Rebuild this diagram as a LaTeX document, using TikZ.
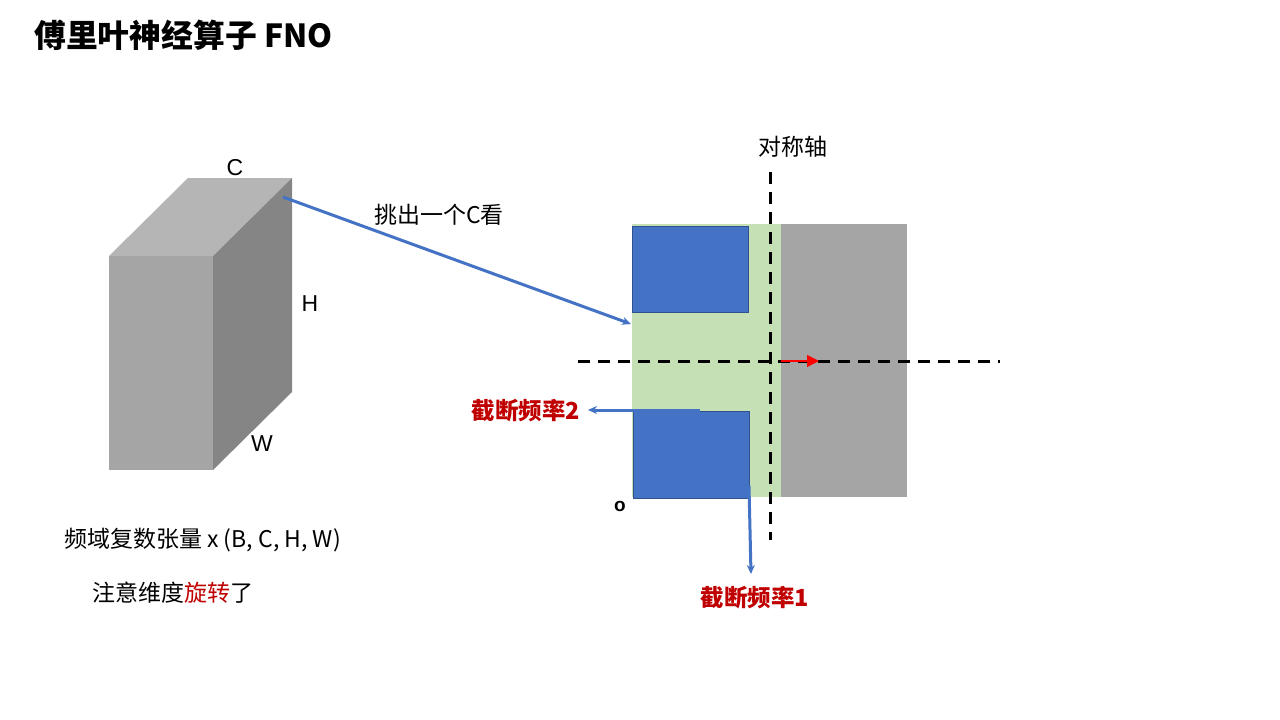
\documentclass[tikz,border=0pt]{standalone}
\usepackage{fontspec}
\setmainfont{Noto Sans CJK SC}
\newfontfamily\arialf{Liberation Sans}
\usetikzlibrary{arrows.meta}
\definecolor{bluefill}{HTML}{4472C4}
\definecolor{blueedge}{HTML}{2F528F}
\definecolor{greenfill}{HTML}{C5E0B4}
\definecolor{grayfill}{HTML}{A5A5A5}
\definecolor{graytop}{HTML}{B5B5B5}
\definecolor{grayside}{HTML}{858585}
\definecolor{darkred}{HTML}{C00000}
\tikzset{
  box/.style={inner sep=0pt, outer sep=0pt, anchor=north west},
  bluebox/.style={box, fill=bluefill, draw=blueedge, line width=1pt},
  bluearrow/.style={draw=bluefill, line width=3pt, -{Stealth[length=9pt,width=8pt]}},
  axis/.style={draw=black, line width=3pt, dash pattern=on 12pt off 8pt},
  lbl/.style={font=\fontsize{23}{28}\selectfont, inner sep=0pt},
  dimlbl/.style={font=\arialf\fontsize{23}{27}\selectfont, inner sep=0pt},
  redlbl/.style={font=\bfseries\fontsize{23.5}{28}\selectfont, text=darkred, inner sep=0pt}
}
\begin{document}
\begin{tikzpicture}[x=1pt,y=-1pt]
\useasboundingbox (0,0) rectangle (1280,720);
% title
\node[anchor=west, font=\bfseries\fontsize{31.8}{36}\selectfont, inner sep=0pt] (title) at (34,35) {傅里叶神经算子 FNO};
% cube
\fill[grayfill] (109,256) rectangle (213,470);
\fill[graytop] (109,256) -- (188,178) -- (292,178) -- (213,256) -- cycle;
\fill[grayside] (213,256) -- (292,178) -- (292,392) -- (213,470) -- cycle;
\coordinate (cubeC) at (283,197);
\node[dimlbl] (labC) at (235,168) {C};
\node[dimlbl] (labH) at (310,304) {H};
\node[dimlbl] (labW) at (262,444) {W};
% right diagram
\node[box, fill=greenfill, minimum width=149pt, minimum height=273pt] (green) at (632,224) {};
\node[box, fill=grayfill, minimum width=126pt, minimum height=273pt] (gray) at (781,224) {};
\node[bluebox, minimum width=116pt, minimum height=86pt] (btop) at (632,226) {};
\node[bluebox, minimum width=116pt, minimum height=87pt] (bbot) at (633,411) {};
% axes
\coordinate (vtop) at (770,172);
\coordinate (vbot) at (770,540);
\coordinate (hl) at (578,361);
\coordinate (hr) at (1000,361);
\draw[axis] (hl) -- (hr);
\draw[axis] (vtop) -- (vbot);
\coordinate (rs) at (781,361);
\coordinate (re) at (819,361);
\draw[red, line width=1.2pt, -{Triangle[length=12pt,width=12pt]}] (rs) -- (re);
\node[lbl] (sym) at (793,147) {对称轴};
% pick arrow
\coordinate (pickend) at (631,324);
\draw[bluearrow] (cubeC) -- (pickend);
\node[lbl] (pick) at (439,215) {挑出一个C看};
% cutoff arrows
\coordinate (c2s) at (700,410);
\coordinate (c2e) at (588,410);
\draw[bluearrow] (c2s) -- (c2e);
\node[redlbl] (cut2) at (526,411) {截断频率2};
\coordinate (c1s) at (749,486);
\coordinate (c1e) at (751,574);
\draw[bluearrow] (c1s) -- (c1e);
\node[redlbl] (cut1) at (755,598) {截断频率1};
\node[font=\bfseries\arialf\fontsize{19}{21}\selectfont, inner sep=0pt] (origin) at (620,506) {o};
% captions
\node[anchor=west, lbl] (cap1) at (64,540) {频域复数张量 x (B, C, H, W)};
\node[anchor=west, lbl] (cap2) at (92,593) {注意维度\textcolor{darkred}{旋转}了};
\end{tikzpicture}
\end{document}
